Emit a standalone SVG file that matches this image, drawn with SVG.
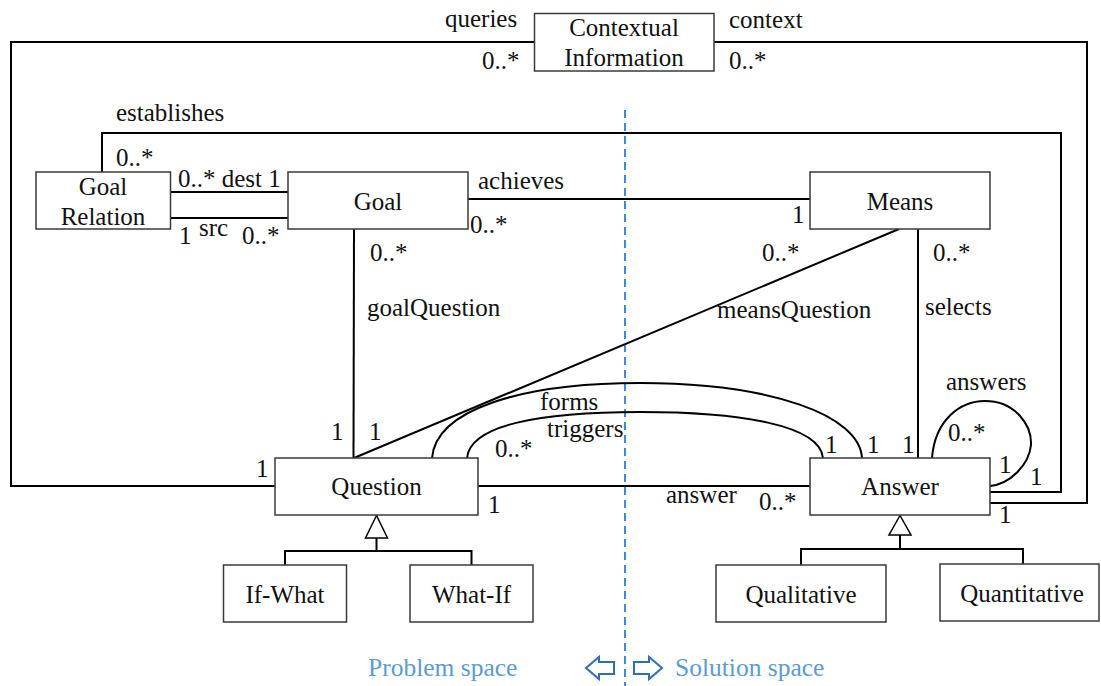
<svg xmlns="http://www.w3.org/2000/svg" width="1101" height="686" viewBox="0 0 1101 686">
<style>
.box{fill:#fff;stroke:#3a3a3a;stroke-width:1.5}
.ln{fill:none;stroke:#000;stroke-width:2}
.t{font-family:"Liberation Serif","Times New Roman",serif;font-size:25px;fill:#111}
.c{text-anchor:middle}
.blue{font-family:"Liberation Serif","Times New Roman",serif;font-size:25.5px;fill:#5b9bd5}
.arr{fill:#fff;stroke:#2f6db5;stroke-width:2;stroke-linejoin:miter}
</style>
<rect width="1101" height="686" fill="#fff"/>
<line x1="625" y1="110" x2="625" y2="686" stroke="#3d8ae0" stroke-width="2" stroke-dasharray="8 5"/>
<g id="connectors">
  <polyline class="ln" points="534.5,42 11,42 11,486 275,486"/>
  <polyline class="ln" points="714,42 1087,42 1087,503 990,503"/>
  <polyline class="ln" points="102,172 102,133 1061,133 1061,492 990,492"/>
  <line class="ln" x1="170.5" y1="192" x2="288" y2="192"/>
  <line class="ln" x1="170.5" y1="218" x2="288" y2="218"/>
  <line class="ln" x1="468" y1="199" x2="810" y2="199"/>
  <line class="ln" x1="354" y1="229" x2="353.5" y2="458"/>
  <line class="ln" x1="899" y1="229" x2="354" y2="458"/>
  <line class="ln" x1="918" y1="229" x2="918" y2="458"/>
  <line class="ln" x1="478" y1="486" x2="810" y2="486"/>
  <path class="ln" d="M432 458 C436 410 520 383 640 383 C770 383 860 415 862 458"/>
  <path class="ln" d="M467 458 C470 425 540 412 640 412 C740 412 820 425 823 458"/>
  <path class="ln" d="M932 458 C935 420 960 401 985 401 C1015 401 1032 425 1031 445 C1029 465 1010 484 990 486"/>
  <polyline class="ln" points="376.5,538 376.5,551"/>
  <polyline class="ln" points="285,565 285,551 471.5,551 471.5,565"/>
  <polygon points="376.5,515.5 365.5,538 387.5,538" fill="#fff" stroke="#000" stroke-width="1.5"/>
  <polyline class="ln" points="900,535 900,549"/>
  <polyline class="ln" points="801,565 801,549 1023,549 1023,565"/>
  <polygon points="900,515.5 889,535 911,535" fill="#fff" stroke="#000" stroke-width="1.5"/>
  <text class="t" x="445" y="27">queries</text>
  <text class="t" x="482" y="69">0..*</text>
  <text class="t" x="729" y="28">context</text>
  <text class="t" x="729" y="69">0..*</text>
  <text class="t" x="116" y="121">establishes</text>
  <text class="t" x="116" y="166">0..*</text>
  <text class="t" x="178" y="187">0..* dest 1</text>
  <text class="t" x="179" y="244">1</text>
  <text class="t" x="199" y="236">src</text>
  <text class="t" x="242" y="244">0..*</text>
  <text class="t" x="478" y="189">achieves</text>
  <text class="t" x="470" y="233">0..*</text>
  <text class="t" x="792" y="223">1</text>
  <text class="t" x="370" y="261">0..*</text>
  <text class="t" x="367" y="316">goalQuestion</text>
  <text class="t" x="762" y="261">0..*</text>
  <text class="t" x="717" y="318">meansQuestion</text>
  <text class="t" x="933" y="261">0..*</text>
  <text class="t" x="925" y="315">selects</text>
  <text class="t" x="946" y="390">answers</text>
  <text class="t" x="540" y="410">forms</text>
  <text class="t" x="547" y="437">triggers</text>
  <text class="t" x="495" y="457">0..*</text>
  <text class="t" x="331" y="440">1</text>
  <text class="t" x="369" y="440">1</text>
  <text class="t" x="256" y="477">1</text>
  <text class="t" x="488" y="513">1</text>
  <text class="t" x="666" y="503">answer</text>
  <text class="t" x="759" y="510">0..*</text>
  <text class="t" x="825" y="453">1</text>
  <text class="t" x="867" y="453">1</text>
  <text class="t" x="902" y="453">1</text>
  <text class="t" x="948" y="441">0..*</text>
  <text class="t" x="999" y="473">1</text>
  <text class="t" x="1030" y="485">1</text>
  <text class="t" x="999" y="523">1</text>
</g>
<g id="contextual-information"><rect class="box" x="534.5" y="13.5" width="179.5" height="57.5"/><text class="t c" x="624" y="36">Contextual</text><text class="t c" x="624" y="66">Information</text></g>
<g id="goal-relation"><rect class="box" x="36" y="172" width="134.5" height="57"/><text class="t c" x="103" y="195">Goal</text><text class="t c" x="103" y="225">Relation</text></g>
<g id="goal"><rect class="box" x="288" y="172" width="180" height="57"/><text class="t c" x="378" y="210">Goal</text></g>
<g id="means"><rect class="box" x="810" y="172" width="180" height="57"/><text class="t c" x="900" y="210">Means</text></g>
<g id="question"><rect class="box" x="275" y="458" width="203" height="57"/><text class="t c" x="376.5" y="495">Question</text></g>
<g id="answer"><rect class="box" x="810" y="458" width="180" height="57"/><text class="t c" x="900" y="495">Answer</text></g>
<g id="if-what"><rect class="box" x="223.5" y="565" width="123" height="57"/><text class="t c" x="285" y="603">If-What</text></g>
<g id="what-if"><rect class="box" x="410" y="565" width="123" height="57"/><text class="t c" x="471.5" y="603">What-If</text></g>
<g id="qualitative"><rect class="box" x="716" y="565" width="170" height="57"/><text class="t c" x="801" y="603">Qualitative</text></g>
<g id="quantitative"><rect class="box" x="940" y="564" width="159" height="57"/><text class="t c" x="1022" y="602">Quantitative</text></g>
<g id="spaces">
  <text class="blue" x="368" y="676">Problem space</text>
  <text class="blue" x="675" y="676">Solution space</text>
  <polygon class="arr" points="586,668 599,657 599,662 614,662 614,674 599,674 599,679"/>
  <polygon class="arr" points="662,668 649,657 649,662 634,662 634,674 649,674 649,679"/>
</g>
</svg>
